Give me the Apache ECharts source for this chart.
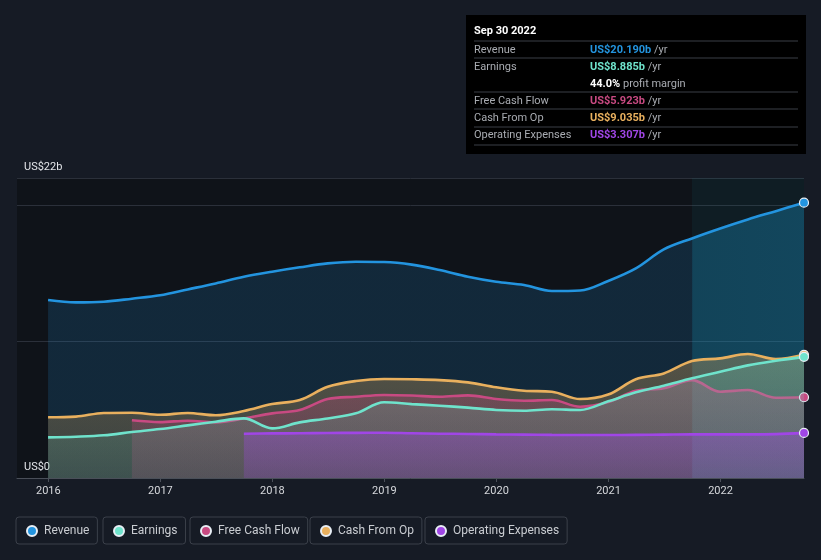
<!DOCTYPE html>
<html>
<head>
<meta charset="utf-8">
<script src="https://cdn.jsdelivr.net/npm/echarts@6/dist/echarts.min.js"></script>
<style>
html,body{margin:0;padding:0;background:#161b25;}
#chart{width:821px;height:560px;}
</style>
</head>
<body>
<div id="chart"></div>
<script>
// Quarter-end dates (trailing twelve months)
const quarterEnds = [
  '2015-12-31','2016-03-31','2016-06-30','2016-09-30',
  '2016-12-31','2017-03-31','2017-06-30','2017-09-30',
  '2017-12-31','2018-03-31','2018-06-30','2018-09-30',
  '2018-12-31','2019-03-31','2019-06-30','2019-09-30',
  '2019-12-31','2020-03-31','2020-06-30','2020-09-30',
  '2020-12-31','2021-03-31','2021-06-30','2021-09-30',
  '2021-12-31','2022-03-31','2022-06-30','2022-09-30'
];
// values in US$ billions
const revenue = [13.05,12.88,12.93,13.15,13.40,13.83,14.27,14.76,15.13,15.45,15.74,15.86,15.84,15.65,15.25,14.76,14.39,14.15,13.71,13.75,14.45,15.37,16.76,17.57,18.30,18.96,19.57,20.19];
const earnings = [2.98,3.03,3.13,3.37,3.59,3.86,4.13,4.37,3.64,4.08,4.37,4.74,5.55,5.42,5.30,5.16,4.99,4.93,5.04,4.99,5.62,6.28,6.77,7.31,7.79,8.26,8.60,8.885];
const freeCashFlow = [null,null,null,4.23,4.10,4.20,4.08,4.37,4.74,4.99,5.79,5.96,6.09,6.05,5.96,6.06,5.79,5.67,5.72,5.23,5.57,6.40,6.58,7.18,6.33,6.45,5.89,5.923];
const cashFromOp = [4.45,4.50,4.77,4.79,4.64,4.77,4.60,4.91,5.42,5.72,6.69,7.11,7.26,7.24,7.18,7.01,6.65,6.40,6.33,5.79,6.12,7.24,7.67,8.58,8.77,9.09,8.72,9.035];
const opExpenses = [null,null,null,null,null,null,null,3.25,3.27,3.28,3.30,3.31,3.32,3.28,3.25,3.23,3.20,3.18,3.16,3.15,3.15,3.16,3.18,3.20,3.20,3.20,3.22,3.307];
const yearTicks = [2016,2017,2018,2019,2020,2021,2022];
const yLabelValues = [0,22];
const highlightStart = '2021-09-30';

const seriesNames = ['Revenue','Earnings','Free Cash Flow','Cash From Op','Operating Expenses'];
const colors = {
  'Revenue':'#2394df',
  'Earnings':'#6fe3cc',
  'Free Cash Flow':'#c84a82',
  'Cash From Op':'#e9b05e',
  'Operating Expenses':'#a046e6'
};

function toYear(s){
  const d = new Date(s+'T00:00:00Z');
  const y = d.getUTCFullYear();
  const a = Date.UTC(y,0,1), b = Date.UTC(y+1,0,1);
  return y + (d.getTime()-a)/(b-a);
}
const xs = quarterEnds.map(toYear);
const lastIdx = xs.length-1;

function pairs(arr){ return arr.map((v,i)=>[xs[i], v]); }

function hexA(hex,a){
  const r=parseInt(hex.slice(1,3),16),g=parseInt(hex.slice(3,5),16),b=parseInt(hex.slice(5,7),16);
  return 'rgba('+r+','+g+','+b+','+a+')';
}

function mkSeries(name, arr, aTop, aBot, z){
  const c = colors[name];
  return {
    name: name,
    type: 'line',
    data: pairs(arr),
    smooth: 0.35,
    connectNulls: false,
    z: z,
    showSymbol: true,
    symbol: function(v, p){ return p.dataIndex === lastIdx ? 'circle' : 'none'; },
    symbolSize: 9,
    itemStyle: { color: c, borderColor: '#e8eef5', borderWidth: 1.2 },
    lineStyle: { color: c, width: 2.6 },
    areaStyle: {
      color: new echarts.graphic.LinearGradient(0,0,0,1,[
        {offset:0,color:hexA(c,aTop)},{offset:1,color:hexA(c,aBot)}
      ])
    },
    emphasis: { disabled: true }
  };
}

const chart = echarts.init(document.getElementById('chart'), null, {renderer:'canvas'});

const hlStart = toYear(highlightStart);
const hlOffset = (hlStart - xs[0]) / (xs[lastIdx] - xs[0]);
const revSeries = mkSeries('Revenue', revenue, 0.28, 0.16, 2);
const rc = colors['Revenue'];
revSeries.areaStyle = {
  color: new echarts.graphic.LinearGradient(0,0,1,0,[
    {offset:0,color:hexA(rc,0.24)},
    {offset:hlOffset,color:hexA(rc,0.24)},
    {offset:Math.min(1,hlOffset+0.001),color:hexA('#1aa0d8',0.42)},
    {offset:1,color:hexA('#1aa0d8',0.45)}
  ])
};
revSeries.markArea = {
  silent: true,
  itemStyle: { color: 'rgba(20,150,170,0.08)' },
  data: [[{ xAxis: hlStart }, { xAxis: xs[lastIdx] }]]
};

const legendLefts = [16, 103, 190, 310, 425];

const labelColor = '#a9acb2';
function row(y, label, valText, valColor, unit){
  return [
    { type:'text', left: 474, top: y-5, style:{ text: label, fill: labelColor, font: '11px Roboto' } },
    { type:'text', left: 590, top: y-5, style:{
        text: '{v|'+valText+'}{u| '+unit+'}',
        rich: { v:{ fill: valColor, font:'bold 11px Roboto' }, u:{ fill: labelColor, font:'11px Roboto' } }
    } }
  ];
}
function sep(y){ return { type:'line', shape:{x1:474,y1:y,x2:798,y2:y}, style:{stroke:'#3a3e46', lineWidth:1} }; }

const infoGraphic = [
  { type:'rect', shape:{x:466,y:15,width:340,height:139}, style:{ fill:'#000000' } },
  { type:'text', left:474, top:26, style:{ text:'Sep 30 2022', fill:'#ffffff', font:'bold 11px Roboto' } },
  sep(41), sep(58), sep(92), sep(109), sep(127), sep(145),
  ...row(49.5, 'Revenue', 'US$20.190b', colors['Revenue'], '/yr'),
  ...row(66.5, 'Earnings', 'US$8.885b', colors['Earnings'], '/yr'),
  { type:'text', left:590, top:78.5, style:{
      text:'{v|44.0%}{u| profit margin}',
      rich:{ v:{fill:'#ffffff', font:'bold 11px Roboto'}, u:{fill:labelColor, font:'11px Roboto'} } } },
  ...row(100.5, 'Free Cash Flow', 'US$5.923b', colors['Free Cash Flow'], '/yr'),
  ...row(118, 'Cash From Op', 'US$9.035b', colors['Cash From Op'], '/yr'),
  ...row(135, 'Operating Expenses', 'US$3.307b', colors['Operating Expenses'], '/yr')
];

const option = {
  backgroundColor: '#161b25',
  animation: false,
  textStyle: { fontFamily: 'Roboto' },
  grid: { left: 17, right: 17, top: 178, bottom: 82, show: true, backgroundColor: '#0f1319', borderWidth: 0 },
  xAxis: {
    type: 'value',
    min: 2015.72,
    max: xs[lastIdx],
    axisLine: { show: true, lineStyle: { color: '#4a4f59', width: 1 } },
    axisTick: { show: true, customValues: yearTicks, length: 4, lineStyle: { color: '#4a4f59' } },
    axisLabel: { customValues: yearTicks, color: '#d6d8dc', fontSize: 11, margin: 8, formatter: v => String(v) },
    splitLine: { show: false }
  },
  yAxis: {
    type: 'value',
    min: 0, max: 22, interval: 10,
    axisLine: { show: false },
    axisTick: { show: false },
    axisLabel: {
      customValues: yLabelValues, inside: true, margin: 7, verticalAlign: 'bottom',
      color: '#e4e6ea', fontSize: 11, padding: [0,0,5,0],
      formatter: v => v === 0 ? 'US$0' : 'US$' + v + 'b'
    },
    splitLine: { show: true, lineStyle: { color: '#2b303a', width: 1 } }
  },
  legend: seriesNames.map((n,i)=>({
    data: [n], left: legendLefts[i], top: 517,
    padding: [8, 8, 7, 10],
    borderColor: '#3b404a', borderWidth: 1, borderRadius: 3,
    icon: 'circle', itemWidth: 10, itemHeight: 10,
    textStyle: { color: '#c9ccd1', fontSize: 12, padding: [0,0,0,2] },
    selectedMode: false
  })),
  graphic: infoGraphic,
  series: [
    revSeries,
    mkSeries('Cash From Op', cashFromOp, 0.45, 0.25, 3),
    mkSeries('Free Cash Flow', freeCashFlow, 0.42, 0.25, 4),
    mkSeries('Earnings', earnings, 0.3, 0.15, 5),
    mkSeries('Operating Expenses', opExpenses, 0.5, 0.3, 6)
  ]
};
chart.setOption(option);
</script>
</body>
</html>
